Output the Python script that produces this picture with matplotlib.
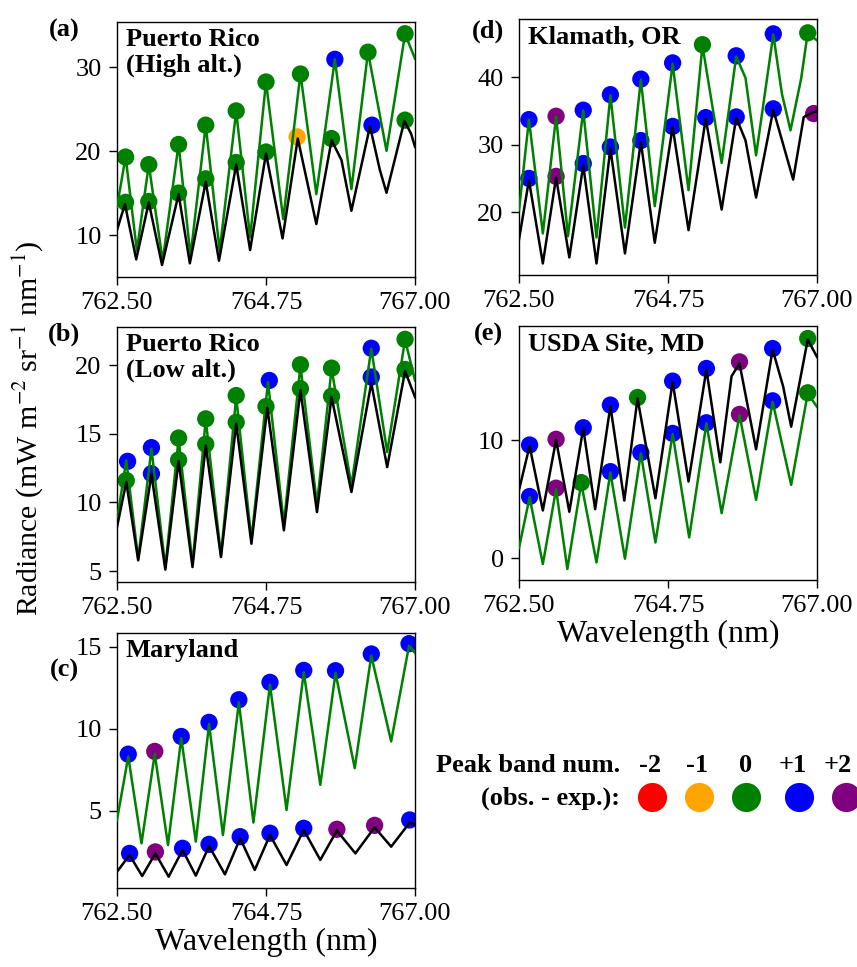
import matplotlib
matplotlib.use("Agg")
import matplotlib.pyplot as plt

plt.rcParams['font.family'] = ['Liberation Serif', 'DejaVu Serif']
plt.rcParams['mathtext.fontset'] = 'stix'

# ---------------- data ----------------
xticks = [762.50, 764.75, 767.00]
xtick_labels = ['762.50', '764.75', '767.00']
band_colors = {-2: 'red', -1: 'orange', 0: 'green', 1: 'blue', 2: 'purple'}
legend_bands = [-2, -1, 0, 1, 2]
legend_labels = ['-2', '-1', '0', '+1', '+2']

# (a) Puerto Rico (High alt.)
a_green_wl = [762.50, 762.63, 762.80, 762.98, 763.19, 763.43, 763.61, 763.84, 764.05, 764.30, 764.51,
              764.75, 765.01, 765.27, 765.51, 765.79, 766.04, 766.29, 766.57, 766.85, 767.00]
a_green = [13.37, 19.33, 8.13, 18.41, 6.94, 20.83, 7.50, 23.10, 8.13, 24.76, 9.72,
           28.25, 11.90, 29.25, 14.88, 30.95, 15.48, 31.83, 20.04, 33.97, 31.03]
a_black_wl = [762.50, 762.62, 762.79, 762.98, 763.18, 763.43, 763.60, 763.84, 764.04, 764.30, 764.51,
              764.75, 765.00, 765.23, 765.51, 765.74, 765.89, 766.04, 766.32, 766.47, 766.57, 766.84,
              766.94, 767.00]
a_black = [10.60, 13.69, 7.10, 13.89, 6.43, 14.88, 6.63, 16.35, 6.94, 18.41, 8.21,
           19.72, 9.60, 21.51, 11.31, 21.31, 18.93, 12.90, 22.98, 17.74, 15.04, 23.61,
           22.10, 20.52]
a_top_wl = [762.63, 762.98, 763.43, 763.84, 764.30, 764.75, 765.27, 765.79, 766.29, 766.85]
a_top_val = [19.3, 18.4, 20.8, 23.1, 24.8, 28.25, 29.2, 30.95, 31.8, 34.0]
a_top_band = [0, 0, 0, 0, 0, 0, 0, 1, 0, 0]
a_bot_wl = [762.63, 762.98, 763.43, 763.84, 764.30, 764.75, 765.22, 765.74, 766.35, 766.85]
a_bot_val = [13.9, 14.0, 15.0, 16.7, 18.65, 19.9, 21.7, 21.5, 23.1, 23.7]
a_bot_band = [0, 0, 0, 0, 0, 0, -1, 0, 1, 0]

# (b) Puerto Rico (Low alt.)
b_green_wl = [762.50, 762.64, 762.82, 763.02, 763.23, 763.43, 763.64, 763.84, 764.07, 764.30, 764.53,
              764.78, 765.02, 765.27, 765.52, 765.74, 766.04, 766.34, 766.58, 766.85, 767.00]
b_green = [8.69, 13.07, 5.90, 13.92, 5.29, 14.65, 5.53, 16.06, 6.14, 17.69, 7.28,
           18.78, 8.45, 19.98, 9.86, 19.76, 11.25, 21.22, 13.68, 21.87, 18.91]
b_black_wl = [762.50, 762.64, 762.82, 763.02, 763.23, 763.43, 763.64, 763.84, 764.07, 764.30, 764.53,
              764.77, 765.02, 765.27, 765.52, 765.74, 766.04, 766.34, 766.58, 766.85, 767.00]
b_black = [8.21, 11.49, 5.78, 12.05, 5.10, 13.02, 5.29, 14.16, 6.02, 15.75, 6.99,
           16.91, 7.97, 18.18, 9.30, 17.69, 10.76, 18.71, 12.58, 19.59, 17.69]
b_top_wl = [762.66, 763.02, 763.43, 763.84, 764.30, 764.80, 765.27, 765.74, 766.34, 766.85]
b_top_val = [13.0, 14.0, 14.7, 16.1, 17.8, 18.9, 20.05, 19.8, 21.25, 21.9]
b_top_band = [1, 1, 0, 0, 0, 1, 0, 0, 1, 0]
b_bot_wl = [762.64, 763.02, 763.43, 763.84, 764.30, 764.75, 765.27, 765.74, 766.34, 766.85]
b_bot_val = [11.6, 12.1, 13.1, 14.25, 15.85, 17.0, 18.3, 17.75, 19.15, 19.7]
b_bot_band = [0, 1, 0, 0, 0, 0, 0, 0, 1, 0]

# (c) Maryland
c_green_wl = [762.50, 762.67, 762.87, 763.07, 763.27, 763.47, 763.69, 763.89, 764.10, 764.34, 764.56,
              764.81, 765.06, 765.32, 765.57, 765.80, 766.09, 766.34, 766.64, 766.91, 767.00]
c_green = [4.45, 8.32, 3.02, 8.48, 2.92, 9.44, 3.13, 10.30, 3.53, 11.62, 4.29,
           12.70, 5.06, 13.45, 6.59, 13.41, 7.61, 14.47, 9.24, 15.08, 14.63]
c_black_wl = [762.50, 762.69, 762.88, 763.08, 763.28, 763.49, 763.69, 763.89, 764.13, 764.36, 764.58,
              764.81, 765.06, 765.32, 765.57, 765.82, 766.10, 766.39, 766.64, 766.92, 767.00]
c_black = [1.29, 2.31, 1.03, 2.41, 0.99, 2.62, 1.05, 2.86, 1.13, 3.33, 1.40,
           3.53, 1.70, 3.84, 2.01, 3.80, 2.41, 4.00, 2.82, 4.29, 4.14]
c_top_wl = [762.67, 763.07, 763.47, 763.89, 764.34, 764.81, 765.32, 765.80, 766.34, 766.91]
c_top_val = [8.46, 8.63, 9.54, 10.4, 11.78, 12.84, 13.57, 13.55, 14.57, 15.2]
c_top_band = [1, 2, 1, 1, 1, 1, 1, 1, 1, 1]
c_bot_wl = [762.69, 763.08, 763.49, 763.89, 764.36, 764.81, 765.32, 765.82, 766.39, 766.92]
c_bot_val = [2.41, 2.5, 2.72, 2.96, 3.43, 3.64, 3.94, 3.88, 4.12, 4.45]
c_bot_band = [1, 2, 1, 1, 1, 1, 1, 2, 2, 1]

# (d) Klamath, OR
d_green_wl = [762.50, 762.65, 762.86, 763.06, 763.24, 763.47, 763.67, 763.88, 764.10, 764.34, 764.55,
              764.82, 765.06, 765.27, 765.56, 765.78, 765.92, 766.08, 766.34, 766.47, 766.60, 766.76,
              766.86, 767.00]
d_green = [20.30, 33.69, 16.85, 34.19, 16.45, 35.07, 16.26, 37.29, 17.73, 39.61, 20.89,
           41.97, 23.25, 44.68, 27.29, 43.05, 39.90, 28.42, 46.31, 37.54, 32.12, 39.75,
           46.55, 45.42]
d_black_wl = [762.50, 762.65, 762.86, 763.06, 763.26, 763.47, 763.67, 763.88, 764.10, 764.34, 764.55,
              764.82, 765.06, 765.32, 765.56, 765.78, 765.92, 766.08, 766.34, 766.64, 766.80, 766.95,
              767.00]
d_black = [15.96, 24.73, 12.41, 25.12, 13.30, 26.95, 12.41, 29.41, 13.89, 30.39, 15.47,
           32.61, 17.34, 33.84, 20.39, 33.99, 30.64, 22.17, 35.17, 24.83, 34.09, 34.83,
           34.93]
d_top_wl = [762.65, 763.06, 763.47, 763.88, 764.34, 764.82, 765.27, 765.78, 766.34, 766.86]
d_top_val = [33.7, 34.2, 35.1, 37.4, 39.7, 42.1, 44.8, 43.15, 46.4, 46.55]
d_top_band = [1, 2, 1, 1, 1, 1, 0, 1, 1, 0]
d_bot_wl = [762.65, 763.06, 763.47, 763.88, 764.34, 764.82, 765.32, 765.78, 766.34, 766.95]
d_bot_val = [25.0, 25.3, 27.2, 29.65, 30.6, 32.7, 34.0, 34.1, 35.3, 34.6]
d_bot_band = [1, 2, 1, 1, 1, 1, 1, 1, 1, 2]

# (e) USDA Site, MD
e_green_wl = [762.50, 762.66, 762.86, 763.06, 763.23, 763.44, 763.67, 763.88, 764.10, 764.34, 764.56,
              764.82, 765.07, 765.33, 765.56, 765.83, 766.08, 766.33, 766.61, 766.86, 767.00]
e_green = [0.85, 5.15, -0.51, 5.83, -0.93, 6.34, -0.37, 7.24, -0.06, 8.87, 1.32,
           10.51, 1.75, 11.41, 3.80, 12.11, 4.93, 13.24, 6.20, 13.94, 12.82]
e_black_wl = [762.50, 762.66, 762.86, 763.06, 763.26, 763.47, 763.65, 763.88, 764.09, 764.29, 764.56,
              764.82, 765.06, 765.33, 765.54, 765.71, 765.83, 766.08, 766.33, 766.49, 766.61, 766.86,
              767.00]
e_black = [5.77, 9.49, 4.03, 10.00, 3.92, 10.99, 4.14, 12.87, 4.87, 13.52, 5.07,
           14.93, 6.48, 15.97, 8.11, 15.41, 16.48, 9.21, 17.66, 14.51, 11.13, 18.51,
           17.04]
e_top_wl = [762.66, 763.06, 763.47, 763.88, 764.29, 764.82, 765.33, 765.83, 766.33, 766.86]
e_top_val = [9.58, 10.06, 11.04, 12.96, 13.6, 14.99, 16.06, 16.62, 17.75, 18.6]
e_top_band = [1, 2, 1, 1, 0, 1, 1, 2, 1, 0]
e_bot_wl = [762.66, 763.06, 763.44, 763.88, 764.34, 764.82, 765.33, 765.83, 766.33, 766.86]
e_bot_val = [5.21, 5.92, 6.39, 7.32, 8.93, 10.56, 11.46, 12.17, 13.32, 14.0]
e_bot_band = [1, 2, 0, 1, 1, 1, 1, 2, 1, 0]

# ---------------- figure ----------------
W, H = 857, 967
fig = plt.figure(figsize=(W / 100, H / 100), dpi=100)


def add_ax(l, t, r, b):
    return fig.add_axes([l / W, 1 - b / H, (r - l) / W, (b - t) / H])


panels = [
    dict(box=(117, 22, 415, 277), ylim=(5.0, 35.4), yticks=[10, 20, 30], letter='(a)', lpos=(64, 30),
         title='Puerto Rico\n(High alt.)', xlabel=False,
         g=(a_green_wl, a_green), k=(a_black_wl, a_black),
         dots=[(a_top_wl, a_top_val, a_top_band), (a_bot_wl, a_bot_val, a_bot_band)]),
    dict(box=(117, 327, 415, 582), ylim=(4.2, 22.8), yticks=[5, 10, 15, 20], letter='(b)', lpos=(64, 334),
         title='Puerto Rico\n(Low alt.)', xlabel=False,
         g=(b_green_wl, b_green), k=(b_black_wl, b_black),
         dots=[(b_top_wl, b_top_val, b_top_band), (b_bot_wl, b_bot_val, b_bot_band)]),
    dict(box=(117, 633, 415, 888), ylim=(0.3, 15.85), yticks=[5, 10, 15], letter='(c)', lpos=(64, 670),
         title='Maryland', xlabel=True,
         g=(c_green_wl, c_green), k=(c_black_wl, c_black),
         dots=[(c_top_wl, c_top_val, c_top_band), (c_bot_wl, c_bot_val, c_bot_band)]),
    dict(box=(519, 19, 817, 275), ylim=(10.7, 48.6), yticks=[20, 30, 40], letter='(d)', lpos=(488, 31),
         title='Klamath, OR', xlabel=False,
         g=(d_green_wl, d_green), k=(d_black_wl, d_black),
         dots=[(d_top_wl, d_top_val, d_top_band), (d_bot_wl, d_bot_val, d_bot_band)]),
    dict(box=(519, 326, 817, 580), ylim=(-1.86, 19.66), yticks=[0, 10], letter='(e)', lpos=(488, 334),
         title='USDA Site, MD', xlabel=True,
         g=(e_green_wl, e_green), k=(e_black_wl, e_black),
         dots=[(e_top_wl, e_top_val, e_top_band), (e_bot_wl, e_bot_val, e_bot_band)]),
]

for p in panels:
    ax = add_ax(*p['box'])
    for wl, val, band in p['dots']:
        ax.scatter(wl, val, s=155, c=[band_colors[b] for b in band], linewidths=0, zorder=2)
    ax.plot(*p['g'], color='green', lw=1.8, zorder=3, solid_joinstyle='round')
    ax.plot(*p['k'], color='black', lw=1.8, zorder=4, solid_joinstyle='round')
    ax.set_xlim(762.5, 767.0)
    ax.set_ylim(*p['ylim'])
    ax.set_xticks(xticks)
    ax.set_xticklabels(xtick_labels)
    ax.set_yticks(p['yticks'])
    ax.tick_params(labelsize=19, length=6, width=1.0, pad=5, direction='out')
    for s in ax.spines.values():
        s.set_linewidth(1.0)
    ax.text(0.03, 0.975, p['title'], transform=ax.transAxes, ha='left', va='top',
            fontsize=19, fontweight='bold', linespacing=1.1, zorder=6)
    if p['xlabel']:
        ax.set_xlabel('Wavelength (nm)', fontsize=23, labelpad=2)
    lx, ly = p['lpos']
    fig.text(lx / W, 1 - ly / H, p['letter'], fontsize=19, fontweight='bold', ha='center', va='center')

fig.text(28 / W, 1 - 428 / H, r'Radiance (mW m$^{-2}$ sr$^{-1}$ nm$^{-1}$)', rotation=90,
         ha='center', va='center', fontsize=21.5)

# legend for peak band numbers
fig.text(620 / W, 1 - 765 / H, 'Peak band num.', fontsize=19, fontweight='bold', ha='right', va='center')
fig.text(620 / W, 1 - 798 / H, '(obs. - exp.):', fontsize=19, fontweight='bold', ha='right', va='center')
leg_ax = fig.add_axes([0, 0, 1, 1])
leg_ax.set_xlim(0, W)
leg_ax.set_ylim(H, 0)
leg_ax.axis('off')
leg_circle_x = [652, 699, 746, 799, 846]
leg_text_x = [650, 697, 746, 793, 838]
for xc, xt, b, lab in zip(leg_circle_x, leg_text_x, legend_bands, legend_labels):
    leg_ax.scatter([xc], [797], s=440, color=band_colors[b], linewidths=0, clip_on=False)
    leg_ax.text(xt, 766, lab, fontsize=19, fontweight='bold', ha='center', va='center')

fig.savefig('out.png', dpi=100)
